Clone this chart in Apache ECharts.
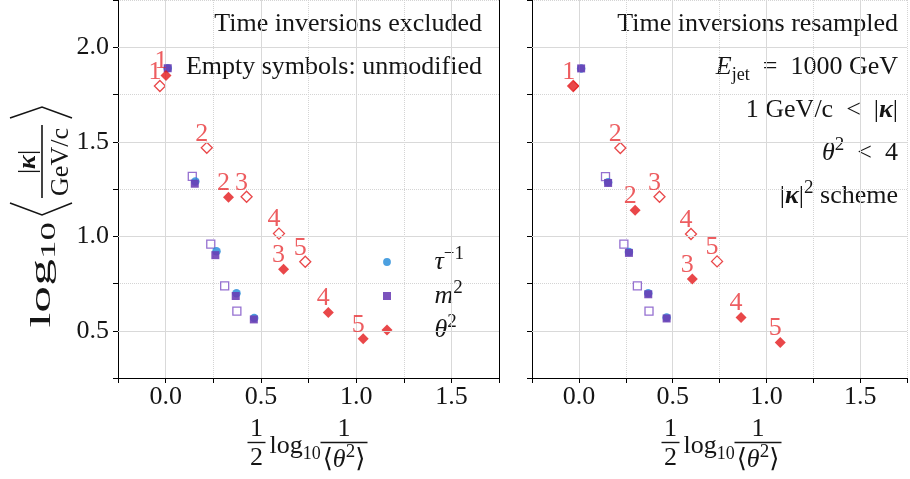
<!DOCTYPE html>
<html><head><meta charset="utf-8">
<script src="https://cdn.jsdelivr.net/npm/echarts@6/dist/echarts.min.js"></script>
<style>html,body{margin:0;padding:0;background:#fff}#c{width:910px;height:479px}</style>
</head><body><div id="c"></div>
<script>
// ---- data ----
const xTicks = [0, 0.5, 1.0, 1.5];
const yTicks = [0.5, 1.0, 1.5, 2.0];
const exclLabels = ['1', '2', '3', '4', '5'];
const resUnmodLabels = ['', '2', '3', '4', '5'];
// Left panel: time inversions excluded
const tauExcl = [[0.011, 1.889], [0.156, 1.290], [0.267, 0.921], [0.372, 0.698], [0.465, 0.567]];
const m2Excl = [[0.011, 1.889], [0.153, 1.278], [0.261, 0.900], [0.368, 0.684], [0.463, 0.560]];
const thetaExcl = [[0.002, 1.851], [0.330, 1.207], [0.619, 0.826], [0.854, 0.596], [1.037, 0.458]];
const m2ExclUnmod = [[0.140, 1.317], [0.237, 0.958], [0.310, 0.737], [0.374, 0.604]];
const thetaExclUnmod = [[-0.030, 1.795], [0.216, 1.468], [0.425, 1.209], [0.595, 1.014], [0.733, 0.865]];
// Right panel: time inversions resampled
const tauRes = [[0.012, 1.888], [0.156, 1.286], [0.267, 0.917], [0.370, 0.698], [0.468, 0.570]];
const m2Res = [[0.012, 1.888], [0.156, 1.282], [0.267, 0.912], [0.370, 0.693], [0.468, 0.565]];
const thetaRes = [[-0.028, 1.795], [0.300, 1.137], [0.605, 0.774], [0.865, 0.570], [1.074, 0.438]];
const m2ResUnmod = [[0.142, 1.316], [0.240, 0.958], [0.312, 0.737], [0.374, 0.604]];
const thetaResUnmod = [[-0.030, 1.795], [0.221, 1.467], [0.430, 1.209], [0.598, 1.012], [0.737, 0.867]];

// ---- styles ----
const SERIF = '"Liberation Serif","DejaVu Serif",serif';
const RED = '#e3191c', BLUE = '#1f88d8', PURPLE = '#6a3cb4';
const NUMCOL = 'rgba(230,35,40,0.92)';
const TXT = '#151515';
const FS = 26;
const ESP = '\u2002';

const isMajor = v => Math.abs(v * 2 - Math.round(v * 2)) < 1e-6;
const grids = [
  {left: 118, top: -2.5, width: 381, height: 380.5},
  {left: 532, top: -2.5, width: 381, height: 380.5}
];
function xAx(gi) {
  return {type: 'value', gridIndex: gi, min: -0.25, max: 1.75, interval: 0.25,
    axisLine: {show: true, onZero: false, lineStyle: {color: '#000', width: 1}},
    axisTick: {show: true, length: 5, lineStyle: {color: '#000'}},
    axisLabel: {formatter: v => (isMajor(v) && v >= 0 ? v.toFixed(1) : ''), fontFamily: SERIF, fontSize: FS, color: TXT, margin: 6},
    splitLine: {show: true, lineStyle: {color: '#d4d4d4', type: 'dotted', width: 1}}};
}
function yAx(gi, labels) {
  return {type: 'value', gridIndex: gi, min: 0.25, max: 2.25, interval: 0.25,
    axisLine: {show: true, onZero: false, lineStyle: {color: '#000', width: 1}},
    axisTick: {show: true, length: 5, lineStyle: {color: '#000'}},
    axisLabel: {show: labels, formatter: v => (isMajor(v) && v > 0.3 && v < 2.2 ? v.toFixed(1) : ''), fontFamily: SERIF, fontSize: FS, color: TXT, margin: 9},
    splitLine: {show: true, lineStyle: {color: '#d4d4d4', type: 'dotted', width: 1}}};
}
function gridLines(gi) {
  return {type: 'scatter', xAxisIndex: gi, yAxisIndex: gi, data: [], z: 1, silent: true,
    markLine: {silent: true, symbol: 'none', animation: false, label: {show: false},
      lineStyle: {color: '#d9d9d9', type: 'solid', width: 1},
      data: xTicks.map(v => ({xAxis: v})).concat(yTicks.map(v => ({yAxis: v})))}};
}
function numLabel(labels) {
  return {show: true, position: 'inside', offset: [-5, -14], formatter: p => labels[p.dataIndex] || '',
    fontFamily: SERIF, fontSize: FS, color: NUMCOL};
}
function panel(gi, tau, m2, theta, m2u, thetau, thetauLabels, thetaLabels) {
  return [
    gridLines(gi),
    {type: 'scatter', name: 'm2 unmodified', xAxisIndex: gi, yAxisIndex: gi, z: 3, data: m2u,
      symbol: 'rect', symbolSize: 8, itemStyle: {color: '#fff', borderColor: '#7a4cc4', borderWidth: 1.3}},
    {type: 'scatter', name: 'theta unmodified', xAxisIndex: gi, yAxisIndex: gi, z: 3, data: thetau,
      symbol: 'diamond', symbolSize: 11, itemStyle: {color: '#fff', borderColor: RED, borderWidth: 1.3},
      label: numLabel(thetauLabels)},
    {type: 'scatter', name: 'tau', xAxisIndex: gi, yAxisIndex: gi, z: 4, data: tau,
      symbol: 'circle', symbolSize: 8.5, itemStyle: {color: BLUE}},
    {type: 'scatter', name: 'm2', xAxisIndex: gi, yAxisIndex: gi, z: 5, data: m2,
      symbol: 'rect', symbolSize: 8, itemStyle: {color: PURPLE, opacity: 0.88}},
    {type: 'scatter', name: 'theta', xAxisIndex: gi, yAxisIndex: gi, z: 6, data: theta,
      symbol: 'diamond', symbolSize: 11, itemStyle: {color: RED},
      label: numLabel(thetaLabels)}
  ];
}

const supRich = {
  i: {fontFamily: SERIF, fontSize: FS, fontStyle: 'italic', lineHeight: 34, color: TXT},
  n: {fontFamily: SERIF, fontSize: FS, lineHeight: 34, color: TXT},
  k: {fontFamily: SERIF, fontSize: FS, fontStyle: 'italic', fontWeight: 'bold', lineHeight: 34, color: TXT},
  sup: {fontFamily: SERIF, fontSize: 19, lineHeight: 16, verticalAlign: 'top', color: TXT},
  sub: {fontFamily: SERIF, fontSize: 18, lineHeight: 17, verticalAlign: 'bottom', color: TXT},
  bl: {fontFamily: SERIF, fontSize: 29, lineHeight: 36, color: TXT},
  bs: {fontFamily: SERIF, fontSize: 20, lineHeight: 18, verticalAlign: 'bottom', color: TXT}
};
function rtext(x, y, text, align) {
  return {type: 'text', x: x, y: y, silent: true,
    style: {text: text, rich: supRich, font: FS + 'px ' + SERIF, fill: TXT, lineHeight: 34,
      textAlign: align || 'right', textVerticalAlign: 'middle'}};
}
function xLabel(cx) {
  return {type: 'group', x: cx, y: 0, silent: true, children: [
    {type: 'text', x: -52, y: 429, style: {text: '1', font: FS + 'px ' + SERIF, fill: TXT, textAlign: 'center', textVerticalAlign: 'middle'}},
    {type: 'line', shape: {x1: -61, y1: 442.5, x2: -43, y2: 442.5}, style: {stroke: TXT, lineWidth: 1.4}},
    {type: 'text', x: -52, y: 458, style: {text: '2', font: FS + 'px ' + SERIF, fill: TXT, textAlign: 'center', textVerticalAlign: 'middle'}},
    {type: 'text', x: -39, y: 446, style: {text: '{n|log}{sub|10}', rich: supRich, font: FS + 'px ' + SERIF, fill: TXT, lineHeight: 34, textAlign: 'left', textVerticalAlign: 'middle'}},
    {type: 'text', x: 35.5, y: 429, style: {text: '1', font: FS + 'px ' + SERIF, fill: TXT, textAlign: 'center', textVerticalAlign: 'middle'}},
    {type: 'line', shape: {x1: 12, y1: 442.5, x2: 59, y2: 442.5}, style: {stroke: TXT, lineWidth: 1.4}},
    {type: 'text', x: 35.5, y: 460, style: {text: '{n|⟨}{i|θ}{sup|2}{n|⟩}', rich: supRich, font: FS + 'px ' + SERIF, fill: TXT, lineHeight: 34, textAlign: 'center', textVerticalAlign: 'middle'}}
  ]};
}
const yLabel = {type: 'group', x: 42, y: 225, rotation: Math.PI / 2, silent: true, children: [
  {type: 'text', x: 3, y: 0, scaleX: 1.85, style: {text: '{bl|log}{bs|10}', rich: supRich, font: '29px ' + SERIF, fill: TXT, lineHeight: 36, textAlign: 'right', textVerticalAlign: 'middle'}},
  {type: 'polyline', shape: {points: [[22, -32], [10, 0], [22, 30]]}, style: {stroke: TXT, lineWidth: 1.6, fill: null}},
  {type: 'polyline', shape: {points: [[107, -32], [118, 0], [107, 30]]}, style: {stroke: TXT, lineWidth: 1.6, fill: null}},
  {type: 'line', shape: {x1: 27, y1: 0, x2: 100, y2: 0}, style: {stroke: TXT, lineWidth: 1.6}},
  {type: 'text', x: 63, y: -14, style: {text: '|{k|κ}|', rich: supRich, font: FS + 'px ' + SERIF, fill: TXT, lineHeight: 34, textAlign: 'center', textVerticalAlign: 'middle'}},
  {type: 'text', x: 63, y: 19, style: {text: 'GeV/c', font: FS + 'px ' + SERIF, fill: TXT, textAlign: 'center', textVerticalAlign: 'middle'}}
]};

const legendText = {tau: '{i|τ}{sup|−1}', m2: '{i|m}{sup|2}', theta: '{i|θ}{sup|2}'};

const option = {
  animation: false,
  backgroundColor: '#fff',
  grid: grids,
  xAxis: [xAx(0), xAx(1)],
  yAxis: [yAx(0, true), yAx(1, false),
    {type: 'value', gridIndex: 0, position: 'right', min: 0.25, max: 2.25,
      axisLine: {show: true, onZero: false, lineStyle: {color: '#000', width: 1}},
      axisTick: {show: false}, axisLabel: {show: false}, splitLine: {show: false}}],
  legend: {orient: 'vertical', left: 381.5, top: 245, padding: 0, itemGap: 4, itemWidth: 11, itemHeight: 11,
    selectedMode: false,
    data: [
      {name: 'tau', icon: 'path://M0,0M11,11M5.5,1.6A3.9,3.9,0,1,1,5.49,1.6Z'},
      {name: 'm2', icon: 'path://M0,0M11,11M1.5,1.5L9.5,1.5L9.5,9.5L1.5,9.5Z'},
      {name: 'theta', icon: 'diamond'}],
    formatter: n => legendText[n],
    textStyle: {fontFamily: SERIF, fontSize: FS, color: TXT, padding: [0, 0, 0, 37], rich: supRich}},
  series: panel(0, tauExcl, m2Excl, thetaExcl, m2ExclUnmod, thetaExclUnmod, exclLabels, exclLabels)
    .concat(panel(1, tauRes, m2Res, thetaRes, m2ResUnmod, thetaResUnmod, resUnmodLabels, exclLabels)),
  graphic: [
    rtext(482, 24, 'Time inversions excluded'),
    rtext(482, 67, 'Empty symbols: unmodified'),
    rtext(898, 24, 'Time inversions resampled'),
    rtext(898, 67, '{i|E}{sub|jet}{n|' + ESP + '=' + ESP + '1000 GeV}'),
    rtext(898, 110, '{n|1 GeV/c' + ESP + '<' + ESP + '|}{k|κ}{n||}'),
    rtext(898, 153, '{i|θ}{sup|2}{n|' + ESP + '<' + ESP + '4}'),
    rtext(898, 196, '{n||}{k|κ}{n||}{sup|2}{n| scheme}'),
    xLabel(308.5), xLabel(722.5), yLabel
  ]
};
const chart = echarts.init(document.getElementById('c'));
chart.setOption(option);
</script></body></html>
